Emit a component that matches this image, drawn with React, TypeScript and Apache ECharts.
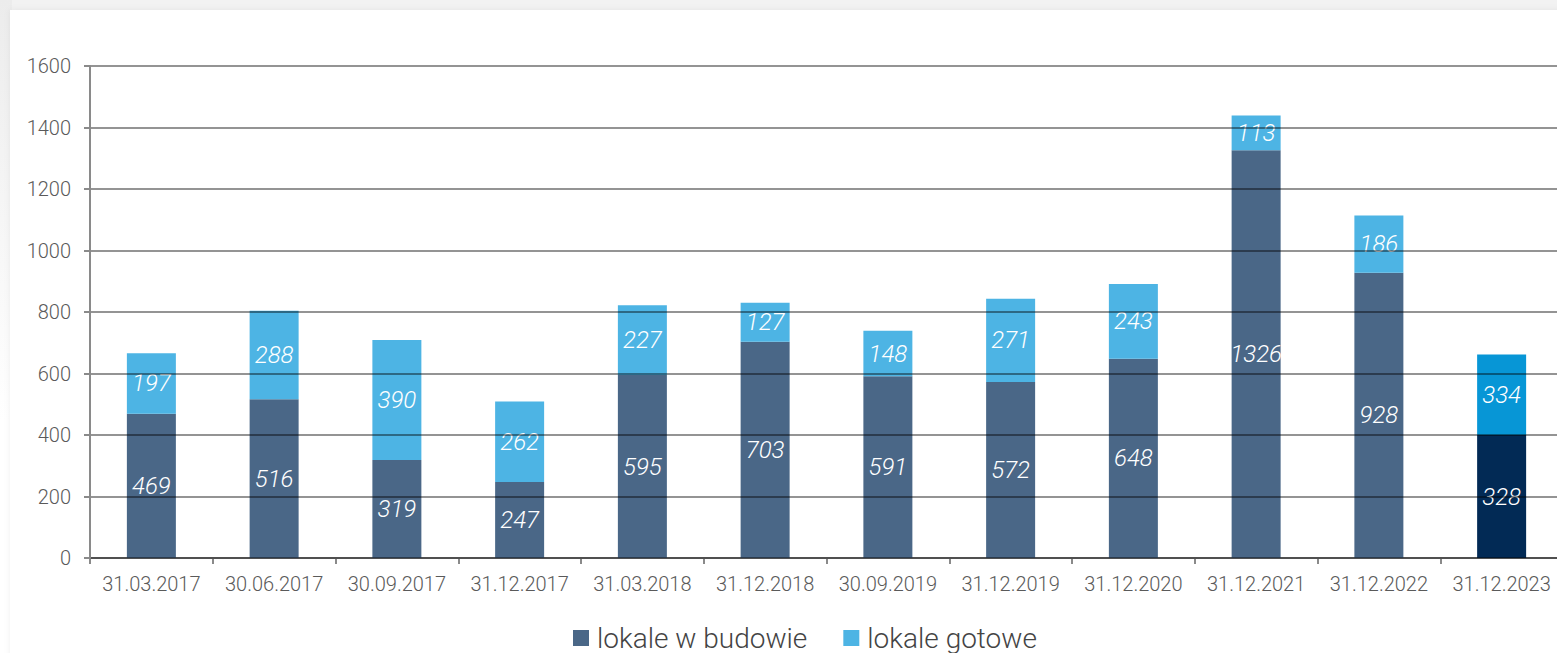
import React, { useEffect, useRef } from "react";
import * as echarts from "echarts";

const categories = [
  "31.03.2017", "30.06.2017", "30.09.2017", "31.12.2017", "31.03.2018", "31.12.2018",
  "30.09.2019", "31.12.2019", "31.12.2020", "31.12.2021", "31.12.2022", "31.12.2023",
];
// bar heights as drawn
const buildingValues = [469, 516, 319, 247, 595, 703, 591, 572, 648, 1326, 928, 400];
const readyValues = [197, 288, 390, 262, 227, 127, 148, 271, 243, 113, 186, 262];
// labels printed on the bars
const buildingLabels = [469, 516, 319, 247, 595, 703, 591, 572, 648, 1326, 928, 328];
const readyLabels = [197, 288, 390, 262, 227, 127, 148, 271, 243, 113, 186, 334];
const seriesNames = ["lokale w budowie", "lokale gotowe"];
const yTicks = { min: 0, max: 1600, interval: 200 };

const DARK = "#4a6787";
const LIGHT = "#4db4e4";
const DARK_LAST = "#022a55";
const LIGHT_LAST = "#0796d6";
const FONT = "Roboto, 'DejaVu Sans', sans-serif";

export default function App() {
  const ref = useRef<HTMLDivElement>(null);
  useEffect(() => {
    document.body.style.margin = "0";
    document.body.style.overflow = "hidden";
    const chart = echarts.init(ref.current!, null, { renderer: "svg" });
    const last = categories.length - 1;
    const labelStyle = (labels: number[]) => ({
      show: true,
      position: "inside" as const,
      color: "#ffffff",
      fontSize: 24,
      fontStyle: "italic" as const,
      fontWeight: 300 as any,
      fontFamily: FONT,
      formatter: (p: any) => String(labels[p.dataIndex]),
    });
    chart.setOption({
      animation: false,
      backgroundColor: "#f2f2f2",
      graphic: [
        {
          type: "rect",
          z: -10,
          shape: { x: 0, y: 0, width: 12, height: 420 },
          style: {
            fill: new echarts.graphic.LinearGradient(0, 0, 0, 1, [
              { offset: 0, color: "#ececec" },
              { offset: 0.15, color: "#efefef" },
              { offset: 1, color: "#ffffff" },
            ]),
          },
        },
        {
          type: "rect",
          z: -9,
          shape: { x: 0, y: 420, width: 12, height: 233 },
          style: { fill: "#ffffff" },
        },
        {
          type: "rect",
          z: -8,
          shape: { x: 10, y: 10, width: 1560, height: 660 },
          style: { fill: "#ffffff", shadowBlur: 6, shadowColor: "rgba(0,0,0,0.06)" },
        },
      ],
      grid: { left: 90, right: 0, top: 66, bottom: 95, containLabel: false },
      legend: {
        left: 568,
        top: 619,
        itemWidth: 16,
        itemHeight: 16,
        itemGap: 36,
        icon: "rect",
        textStyle: { fontSize: 28, color: "#444", fontFamily: FONT, fontWeight: 300 as any, padding: [0, 0, 0, 3] },
        data: seriesNames,
      },
      xAxis: {
        type: "category",
        data: categories,
        axisLine: { lineStyle: { color: "#8a8a8a", width: 2 } },
        axisTick: { show: true, interval: 0, length: 6, lineStyle: { color: "#8a8a8a", width: 2 } },
        axisLabel: {
          interval: 0,
          hideOverlap: false,
          fontSize: 20,
          color: "#5a5a5a",
          fontFamily: FONT,
          fontWeight: 300 as any,
          margin: 16,
        },
      },
      yAxis: {
        type: "value",
        min: yTicks.min,
        max: yTicks.max,
        interval: yTicks.interval,
        z: 10,
        axisLine: { show: true, lineStyle: { color: "#8a8a8a", width: 2 } },
        axisTick: { show: true, length: 6, lineStyle: { color: "#8a8a8a", width: 2 } },
        axisLabel: {
          fontSize: 20,
          color: "#5a5a5a",
          fontFamily: FONT,
          fontWeight: 300 as any,
          margin: 19,
          formatter: (v: number) => String(v),
        },
        splitLine: { show: true, lineStyle: { color: "rgba(0,0,0,0.42)", width: 2 } },
      },
      series: [
        {
          name: seriesNames[0],
          type: "bar",
          stack: "total",
          barWidth: 49,
          itemStyle: { color: DARK },
          label: labelStyle(buildingLabels),
          data: buildingValues.map((v, i) =>
            i === last ? { value: v, itemStyle: { color: DARK_LAST } } : v
          ),
        },
        {
          name: seriesNames[1],
          type: "bar",
          stack: "total",
          barWidth: 49,
          itemStyle: { color: LIGHT },
          label: labelStyle(readyLabels),
          data: readyValues.map((v, i) =>
            i === last ? { value: v, itemStyle: { color: LIGHT_LAST } } : v
          ),
        },
      ],
    });
    return () => chart.dispose();
  }, []);
  return <div ref={ref} style={{ width: 1563, height: 653 }} />;
}
